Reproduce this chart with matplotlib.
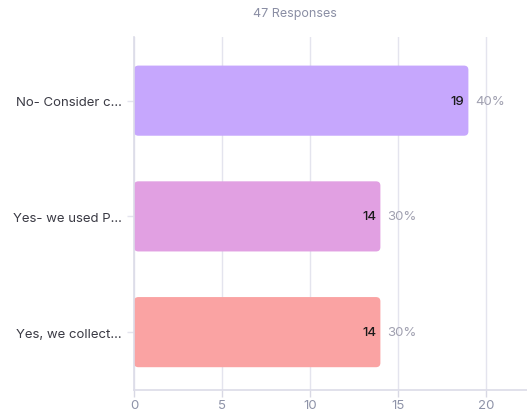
import matplotlib
matplotlib.use("Agg")
import matplotlib.pyplot as plt
from matplotlib.patches import FancyBboxPatch

categories = ["No- Consider c...", "Yes- we used P...", "Yes, we collect..."]
counts = [19, 14, 14]
percents = ["40%", "30%", "30%"]
colors = ["#c6a7fd", "#e1a0e2", "#faa3a3"]
xticks = [0, 5, 10, 15, 20]
title = "47 Responses"

plt.rcParams['font.family'] = ['Inter', 'DejaVu Sans']

fig = plt.figure(figsize=(5.27, 4.14), dpi=100)
ax = fig.add_axes([134/527, 23/414, 1 - 134/527, 353/414])

ypos = list(range(len(categories)))
bars = ax.barh(ypos, counts, height=0.606, color=colors, zorder=2)
for b, c in zip(bars, colors):
    x, y = b.get_x(), b.get_y()
    w, h = b.get_width(), b.get_height()
    b.set_visible(False)
    p = FancyBboxPatch((x, y), w, h,
                       boxstyle="round,pad=0,rounding_size=0.25",
                       mutation_aspect=0.15, facecolor=c, edgecolor='none', zorder=2)
    ax.add_patch(p)

ax.set_xlim(0, 22.33)
ax.set_ylim(2.5, -0.55)
ax.set_xticks(xticks)
ax.set_yticks(ypos)
ax.set_yticklabels(categories)
ax.tick_params(axis='x', color="#d8d8e4", labelcolor="#8e93a8", labelsize=9.5, length=5, width=1, pad=1.5)
ax.tick_params(axis='y', color="#e4e4ee", labelcolor="#3a3a44", labelsize=9.5, length=5, width=1, pad=4)
ax.grid(axis='x', color="#e4e4ee", linewidth=1, zorder=0)
for s in ['top', 'right']:
    ax.spines[s].set_visible(False)
for s in ['left', 'bottom']:
    ax.spines[s].set_color("#dcdce8")
    ax.spines[s].set_linewidth(1.2)

for y, c, pc in zip(ypos, counts, percents):
    ax.annotate(str(c), (c, y), xytext=(-3, 0), textcoords='offset points',
                ha='right', va='center', fontsize=9.5, color="#1a1a1a", fontweight='medium', zorder=3)
    ax.annotate(pc, (c, y), xytext=(5, 0), textcoords='offset points',
                ha='left', va='center', fontsize=9.5, color="#a0a0b0", zorder=3)

fig.text(295/527, 1 - 14/414, title, ha='center', va='center', fontsize=9, color="#8a8ea4")

fig.savefig("out.png", dpi=100)
